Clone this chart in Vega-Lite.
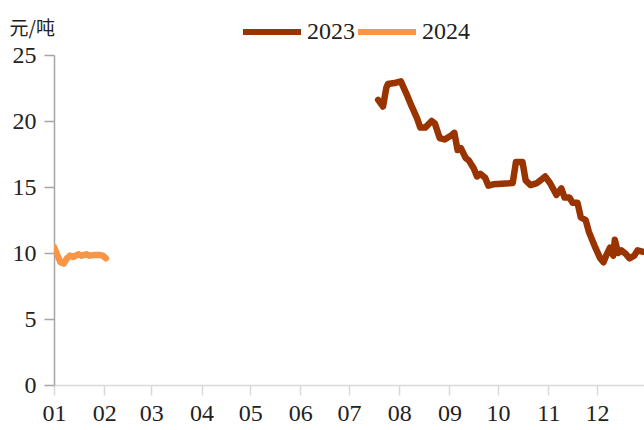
{
  "$schema": "https://vega.github.io/schema/vega-lite/v6.json",
  "autosize": {"type": "none"},
  "padding": {"left": 54, "top": 55, "right": 0, "bottom": 45},
  "width": 590,
  "height": 330,
  "background": "white",
  "config": {
    "view": {"stroke": null},
    "font": "Liberation Serif"
  },
  "data": {
    "values": [
      {"series": "2023", "date": "2023-07-19", "value": 21.6},
      {"series": "2023", "date": "2023-07-22", "value": 21.1},
      {"series": "2023", "date": "2023-07-24", "value": 22.5},
      {"series": "2023", "date": "2023-07-25", "value": 22.8},
      {"series": "2023", "date": "2023-07-30", "value": 22.9},
      {"series": "2023", "date": "2023-08-02", "value": 23.0},
      {"series": "2023", "date": "2023-08-06", "value": 21.9},
      {"series": "2023", "date": "2023-08-08", "value": 21.3},
      {"series": "2023", "date": "2023-08-12", "value": 20.2},
      {"series": "2023", "date": "2023-08-14", "value": 19.5},
      {"series": "2023", "date": "2023-08-17", "value": 19.5},
      {"series": "2023", "date": "2023-08-21", "value": 20.0},
      {"series": "2023", "date": "2023-08-23", "value": 19.8},
      {"series": "2023", "date": "2023-08-26", "value": 18.7},
      {"series": "2023", "date": "2023-08-29", "value": 18.6},
      {"series": "2023", "date": "2023-09-02", "value": 18.9},
      {"series": "2023", "date": "2023-09-04", "value": 19.1},
      {"series": "2023", "date": "2023-09-06", "value": 17.8},
      {"series": "2023", "date": "2023-09-08", "value": 17.95},
      {"series": "2023", "date": "2023-09-11", "value": 17.2},
      {"series": "2023", "date": "2023-09-13", "value": 17.0},
      {"series": "2023", "date": "2023-09-16", "value": 16.4},
      {"series": "2023", "date": "2023-09-18", "value": 15.8},
      {"series": "2023", "date": "2023-09-20", "value": 16.0},
      {"series": "2023", "date": "2023-09-23", "value": 15.7},
      {"series": "2023", "date": "2023-09-25", "value": 15.1},
      {"series": "2023", "date": "2023-09-28", "value": 15.2},
      {"series": "2023", "date": "2023-10-10", "value": 15.3},
      {"series": "2023", "date": "2023-10-12", "value": 16.9},
      {"series": "2023", "date": "2023-10-16", "value": 16.9},
      {"series": "2023", "date": "2023-10-18", "value": 15.5},
      {"series": "2023", "date": "2023-10-21", "value": 15.15},
      {"series": "2023", "date": "2023-10-25", "value": 15.3},
      {"series": "2023", "date": "2023-10-27", "value": 15.5},
      {"series": "2023", "date": "2023-10-30", "value": 15.8},
      {"series": "2023", "date": "2023-11-02", "value": 15.3},
      {"series": "2023", "date": "2023-11-06", "value": 14.4},
      {"series": "2023", "date": "2023-11-09", "value": 14.9},
      {"series": "2023", "date": "2023-11-11", "value": 14.2},
      {"series": "2023", "date": "2023-11-14", "value": 14.2},
      {"series": "2023", "date": "2023-11-16", "value": 13.8},
      {"series": "2023", "date": "2023-11-19", "value": 13.8},
      {"series": "2023", "date": "2023-11-21", "value": 12.7},
      {"series": "2023", "date": "2023-11-24", "value": 12.5},
      {"series": "2023", "date": "2023-11-26", "value": 11.6},
      {"series": "2023", "date": "2023-11-30", "value": 10.4},
      {"series": "2023", "date": "2023-12-03", "value": 9.6},
      {"series": "2023", "date": "2023-12-05", "value": 9.3},
      {"series": "2023", "date": "2023-12-07", "value": 9.9},
      {"series": "2023", "date": "2023-12-09", "value": 10.4},
      {"series": "2023", "date": "2023-12-11", "value": 9.8},
      {"series": "2023", "date": "2023-12-12", "value": 11.0},
      {"series": "2023", "date": "2023-12-14", "value": 10.0},
      {"series": "2023", "date": "2023-12-16", "value": 10.2},
      {"series": "2023", "date": "2023-12-19", "value": 9.9},
      {"series": "2023", "date": "2023-12-21", "value": 9.6},
      {"series": "2023", "date": "2023-12-24", "value": 9.8},
      {"series": "2023", "date": "2023-12-26", "value": 10.2},
      {"series": "2023", "date": "2023-12-29", "value": 10.1},
      {"series": "2024", "date": "2024-01-01", "value": 10.45},
      {"series": "2024", "date": "2024-01-03", "value": 9.85},
      {"series": "2024", "date": "2024-01-05", "value": 9.3},
      {"series": "2024", "date": "2024-01-07", "value": 9.2},
      {"series": "2024", "date": "2024-01-09", "value": 9.6},
      {"series": "2024", "date": "2024-01-11", "value": 9.8},
      {"series": "2024", "date": "2024-01-13", "value": 9.7},
      {"series": "2024", "date": "2024-01-16", "value": 9.9},
      {"series": "2024", "date": "2024-01-18", "value": 9.8},
      {"series": "2024", "date": "2024-01-21", "value": 9.9},
      {"series": "2024", "date": "2024-01-23", "value": 9.8},
      {"series": "2024", "date": "2024-01-26", "value": 9.85},
      {"series": "2024", "date": "2024-01-29", "value": 9.85},
      {"series": "2024", "date": "2024-01-31", "value": 9.8},
      {"series": "2024", "date": "2024-02-02", "value": 9.6}
    ]
  },
  "mark": {"type": "line", "strokeWidth": 6.5, "strokeCap": "round", "strokeJoin": "round", "clip": true},
  "encoding": {
    "x": {
      "timeUnit": "monthdate",
      "field": "date",
      "type": "temporal",
      "scale": {"domain": [{"year": 2012, "month": 1, "date": 1}, {"year": 2012, "month": 12, "date": 30}]},
      "axis": {
        "title": null,
        "format": "%m",
        "tickCount": {"interval": "month", "step": 1},
        "grid": false,
        "domainColor": "#d9d9d9",
        "domainWidth": 1.5,
        "tickColor": "#d9d9d9",
        "tickWidth": 1.5,
        "tickSize": 10,
        "labelPadding": 6,
        "labelFontSize": 24,
        "labelFont": "Liberation Serif",
        "labelColor": "#222222",
        "labelFlush": false,
        "labelOverlap": false
      }
    },
    "y": {
      "field": "value",
      "type": "quantitative",
      "scale": {"domain": [0, 25], "nice": false, "zero": true},
      "axis": {
        "title": "元/吨",
        "titleAngle": 0,
        "titleAlign": "left",
        "titleBaseline": "bottom",
        "titleX": -45,
        "titleY": -17,
        "titleFont": "Noto Sans CJK SC",
        "titleFontSize": 19,
        "titleFontWeight": "normal",
        "titleColor": "#222222",
        "values": [0, 5, 10, 15, 20, 25],
        "grid": false,
        "domainColor": "#a6a6a6",
        "domainWidth": 1.5,
        "tickColor": "#a6a6a6",
        "tickWidth": 1.5,
        "tickSize": 10,
        "labelPadding": 8,
        "labelFontSize": 24,
        "labelFont": "Liberation Serif",
        "labelColor": "#222222"
      }
    },
    "color": {
      "field": "series",
      "type": "nominal",
      "scale": {"domain": ["2023", "2024"], "range": ["#993300", "#f79646"]},
      "legend": {
        "title": null,
        "orient": "none",
        "direction": "horizontal",
        "legendX": 186,
        "legendY": -55,
        "padding": 0,
        "symbolType": "stroke",
        "symbolSize": 3364,
        "symbolStrokeWidth": 6,
        "labelFontSize": 24,
        "labelFont": "Liberation Serif",
        "labelColor": "#222222",
        "labelOffset": 3,
        "columnPadding": -9
      }
    }
  }
}
